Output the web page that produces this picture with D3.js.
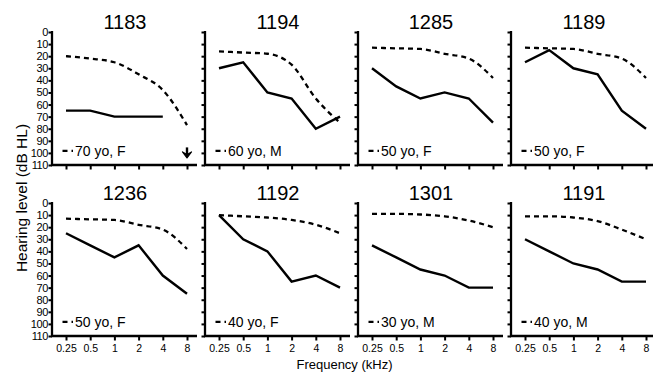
<!DOCTYPE html>
<html>
<head>
<meta charset="utf-8">
<script src="https://cdn.jsdelivr.net/npm/d3@7"></script>
<style>
  html, body { margin: 0; padding: 0; background: #fff; }
  svg { display: block; font-family: "Liberation Sans", Arial, Helvetica, sans-serif; }
</style>
</head>
<body>
<svg id="chart" width="653" height="373"></svg>
<script>
// ---- data ----
const panelIds = ["1183", "1194", "1285", "1189", "1236", "1192", "1301", "1191"];
const legendLabels = ["70 yo, F", "60 yo, M", "50 yo, F", "50 yo, F", "50 yo, F", "40 yo, F", "30 yo, M", "40 yo, M"];
const freqs = [0.25, 0.5, 1, 2, 4, 8];
const freqLabels = ["0.25", "0.5", "1", "2", "4", "8"];
const yTickValues = [0, 10, 20, 30, 40, 50, 60, 70, 80, 90, 100, 110];

// measured thresholds (solid), null = no response
const thr1183 = [65, 65, 70, 70, 70, null];
const thr1194 = [30, 25, 50, 55, 80, 70];
const thr1285 = [30, 45, 55, 50, 55, 75];
const thr1189 = [25, 15, 30, 35, 65, 80];
const thr1236 = [25, 35, 45, 35, 60, 75];
const thr1192 = [10, 30, 40, 65, 60, 70];
const thr1301 = [35, 45, 55, 60, 70, 70];
const thr1191 = [30, 40, 50, 55, 65, 65];

// age/sex normative curves (dashed)
const norm70F = [20, 22, 25, 35, 48, 77];
const norm60M = [16, 17, 18, 27, 55, 75];
const norm50F = [13, 13.5, 14, 18, 22, 38];
const norm40F = [10, 11, 12, 14, 18, 25];
const norm30M = [9, 9, 9.5, 11, 14.5, 20];
const norm40M = [11, 11, 12, 15, 22, 30];

const thresholds = [thr1183, thr1194, thr1285, thr1189, thr1236, thr1192, thr1301, thr1191];
const norms = [norm70F, norm60M, norm50F, norm50F, norm50F, norm40F, norm30M, norm40M];
// frequency with no response (arrow) per panel
const noResponse = [8, null, null, null, null, null, null, null];

// ---- layout ----
const svg = d3.select("#chart");
const colX = [52, 205, 358, 511];
const rowY = [32, 203];
const pw = 145, ph = 133;

const x = d3.scaleLog().base(2).domain([0.25, 8]).range([14, 135]);
const y = d3.scaleLinear().domain([0, 110]).range([0, ph]);

const lineSolid = d3.line()
  .defined(d => d.v != null)
  .x(d => x(d.f)).y(d => y(d.v));
const lineDash = d3.line()
  .curve(d3.curveMonotoneX)
  .x(d => x(d.f)).y(d => y(d.v));

panelIds.forEach((id, i) => {
  const col = i % 4, row = Math.floor(i / 4);
  const g = svg.append("g").attr("transform", `translate(${colX[col]},${rowY[row]})`);

  // y axis
  const ya = d3.axisLeft(y).tickValues(yTickValues).tickSize(3.5).tickSizeOuter(0).tickPadding(0.5)
    .tickFormat(col === 0 ? d3.format("d") : () => "");
  const yg = g.append("g").call(ya);
  yg.select(".domain").remove();
  yg.selectAll(".tick line").attr("stroke", "#000").attr("stroke-width", 2);
  yg.selectAll(".tick text").attr("fill", "#000").style("font-size", "11px").attr("letter-spacing", "-0.4");

  // x axis
  const xa = d3.axisBottom(x).tickValues(freqs).tickSize(4.5).tickSizeOuter(0).tickPadding(4.5)
    .tickFormat((d, k) => row === 1 ? freqLabels[k] : "");
  const xg = g.append("g").attr("transform", `translate(0,${ph})`).call(xa);
  xg.select(".domain").remove();
  xg.selectAll(".tick line").attr("stroke", "#000").attr("stroke-width", 2);
  xg.selectAll(".tick text").attr("fill", "#000").style("font-size", "10.5px");

  // axis lines
  g.append("line").attr("x1", 0).attr("x2", 0).attr("y1", y(0) - 1).attr("y2", ph + 1)
    .attr("stroke", "#000").attr("stroke-width", 2.3);
  g.append("line").attr("x1", -1).attr("x2", pw).attr("y1", ph).attr("y2", ph)
    .attr("stroke", "#000").attr("stroke-width", 2.3);

  // title
  g.append("text").attr("x", 73).attr("y", -3).attr("text-anchor", "middle")
    .style("font-size", "20px").attr("fill", "#000").text(id);

  // norm dashed
  const nd = freqs.map((f, k) => ({ f, v: norms[i][k] }));
  g.append("path").attr("d", lineDash(nd)).attr("fill", "none").attr("stroke", "#000")
    .attr("stroke-width", 2.3).attr("stroke-dasharray", "5,4");

  // threshold solid
  const td = freqs.map((f, k) => ({ f, v: thresholds[i][k] }));
  g.append("path").attr("d", lineSolid(td)).attr("fill", "none").attr("stroke", "#000")
    .attr("stroke-width", 2.4).attr("stroke-linejoin", "miter");

  // legend
  const ly = y(100) - 2;
  g.append("line").attr("x1", 10.5).attr("x2", 21).attr("y1", ly).attr("y2", ly)
    .attr("stroke", "#000").attr("stroke-width", 2.3).attr("stroke-dasharray", "5,4");
  g.append("text").attr("x", 23).attr("y", ly + 5).style("font-size", "14px")
    .attr("fill", "#000").text(legendLabels[i]);

  // no-response arrow
  if (noResponse[i] != null) {
    const ax = x(noResponse[i]), ay = y(100);
    g.append("line").attr("x1", ax).attr("x2", ax).attr("y1", ay - 5.5).attr("y2", ay + 2)
      .attr("stroke", "#000").attr("stroke-width", 2.4);
    g.append("path")
      .attr("d", `M${ax - 4.5},${ay - 1} L${ax},${ay + 5} L${ax + 4.5},${ay - 1} L${ax},${ay + 1.5} Z`)
      .attr("fill", "#000").attr("stroke", "#000").attr("stroke-width", 1.2).attr("stroke-linejoin", "round");
  }
});

// axis titles
svg.append("text").attr("transform", "translate(26.5,198) rotate(-90)")
  .attr("text-anchor", "middle").style("font-size", "15.5px").attr("fill", "#000")
  .text("Hearing level (dB HL)");
svg.append("text").attr("x", 344.5).attr("y", 369).attr("text-anchor", "middle")
  .style("font-size", "13px").attr("fill", "#000").text("Frequency (kHz)");
</script>
</body>
</html>
